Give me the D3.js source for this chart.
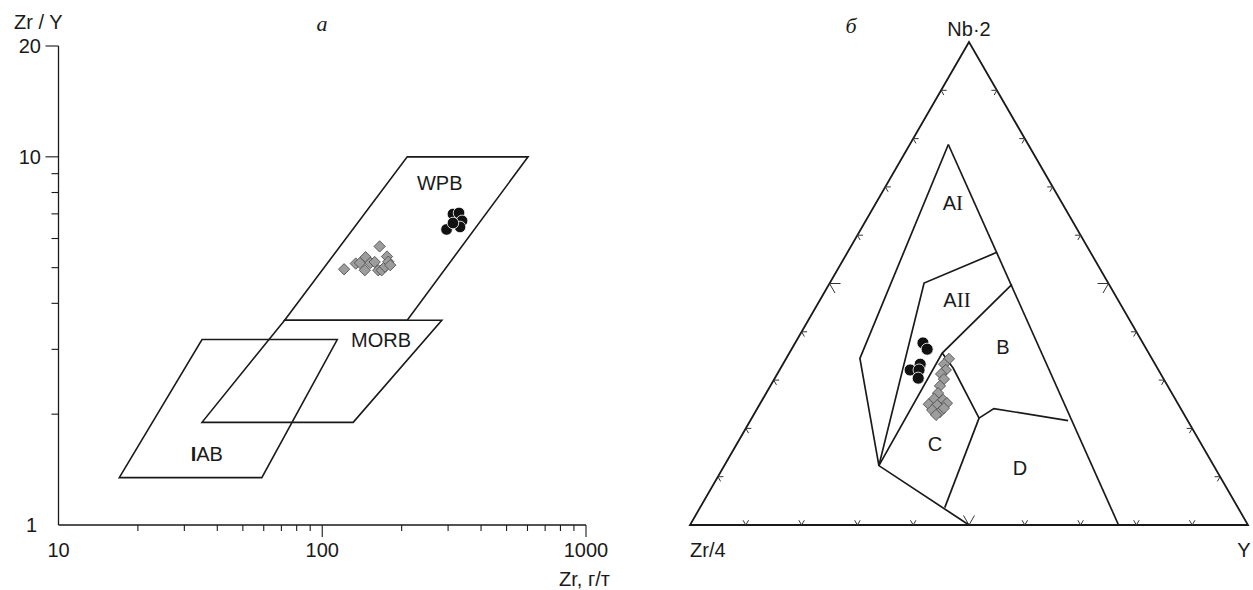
<!DOCTYPE html>
<html><head><meta charset="utf-8">
<script src="https://cdn.jsdelivr.net/npm/d3@7"></script>
<style>
body{margin:0;background:#fff}
svg{display:block}
text{font-family:"Liberation Sans",Arial,sans-serif;fill:#1a1a1a}
</style>
</head><body>
<svg id="c" width="1253" height="590"></svg>
<script>
// ================= DATA =================
// Panel a: Zr/Y vs Zr (log-log)
const xTicks = [10, 100, 1000];
const xTickLabels = ["10", "100", "1000"];
const xMinorTicks = [20,30,40,50,60,70,80,90,200,300,400,500,600,700,800,900];
const yTicks = [1, 10, 20];
const yTickLabels = ["1", "10", "20"];
const yMinorTicks = [2,3,4,5,6,7,8,9];
const xAxisTitle = "Zr, г/т";
const yAxisTitle = "Zr / Y";

const fieldNamesA = ["WPB", "MORB", "IAB"];
const fieldWPB  = [[210,10],[603,10],[210,3.6],[72,3.6]];
const fieldMORB = [[72,3.6],[284,3.6],[131,1.9],[35,1.9]];
const fieldIAB  = [[35,3.19],[114,3.19],[59,1.345],[17,1.345]];
const fieldLabelA = [[279,8.5],[167,3.19],[36.5,1.56]];

// samples (grey diamonds)
const zrDiamond  = [121,134,139,146,145,152,158,163,165,168,173,176,178,181];
const zrYDiamond = [4.95,5.13,5.15,5.34,4.92,5.15,5.18,4.92,5.71,4.92,5.03,5.36,5.19,5.08];
// samples (black circles)
const zrCircle  = [296,313,330,339,333,313];
const zrYCircle = [6.35,6.99,7.04,6.70,6.45,6.61];

// Panel б: ternary Nb*2 – Zr/4 – Y  (values as [Nb*2, Zr/4, Y] %)
const vertexLabels = ["Nb·2", "Zr/4", "Y"];
const tickFractions = [0.1,0.2,0.3,0.4,0.5,0.6,0.7,0.8,0.9];
const bLineOuter = [[78.7,14.3,6.9],[34.5,52.3,13.2],[12.3,60.0,27.7],[0,50,50]];
const bLineRight = [[78.7,14.3,6.9],[0,23.2,76.8]];
const bLineAI    = [[56.4,16.9,26.7],[50.1,33.0,16.9],[12.3,60.0,27.7]];
const bLineAII   = [[49.8,17.4,32.8],[35.6,37.0,27.4],[12.3,60.0,27.7]];
const bLineBC    = [[35.6,37.0,27.4],[32.5,36.6,30.9],[22.1,37.1,40.7],[24.1,33.5,42.4],[21.6,21.4,56.9]];
const bLineCD    = [[22.1,37.1,40.7],[3.6,52.6,43.9]];
const fieldNamesB = ["A", "A", "B", "C", "D"];
const fieldNumeralsB = ["I", "II", "", "", ""];
const fieldLabelB = [[66.7,19.6,13.8],[46.6,28.9,24.6],[36.8,25.5,37.7],[16.8,47.7,35.5],[11.9,34.9,53.2]];

const nbCircleT = [37.7,36.4,32.1,33.3,32.1,30.4];
const zrCircleT = [39.4,39.3,44.5,42.1,42.9,43.9];
const yCircleT  = [22.9,24.3,23.4,24.6,25.0,25.7];

const nbDiamondT = [34.4,33.3,32.1,31.3,30.2,28.8,27.3,26.1,25.9,25.0,24.8,25.2,23.8,23.4,24.2,22.8];
const zrDiamondT = [36.4,37.8,38.1,39.4,39.4,40.8,41.9,43.2,41.7,44.7,43.3,41.3,44.7,43.5,42.4,44.5];
const yDiamondT  = [29.2,28.9,29.8,29.4,30.4,30.4,30.8,30.7,32.4,30.3,31.9,33.4,31.5,33.1,33.4,32.7];

// ================= DRAW =================
const svg = d3.select("#c");
const FS = 20;
const ink = "#1a1a1a";

// ---------- Panel a ----------
const gA = svg.append("g");
const x = d3.scaleLog().domain([10,1000]).range([58.5,586]);
const y = d3.scaleLog().domain([1,20]).range([525,46]);

gA.append("text").attr("x",322).attr("y",31).attr("text-anchor","middle")
  .style("font-family","'Liberation Serif',serif").style("font-style","italic")
  .style("font-size","22px").text("а");

// axes lines
gA.append("line").attr("x1",x(10)).attr("x2",x(10)).attr("y1",y(20)).attr("y2",y(1))
  .attr("stroke",ink).attr("stroke-width",1.3);
gA.append("line").attr("x1",x(10)).attr("x2",x(1000)).attr("y1",y(1)).attr("y2",y(1))
  .attr("stroke",ink).attr("stroke-width",1.3);

// y ticks
gA.selectAll(".ymaj").data(yTicks.filter(d=>d>1)).enter().append("line")
  .attr("x1",x(10)).attr("x2",x(10)-13).attr("y1",d=>y(d)).attr("y2",d=>y(d))
  .attr("stroke",ink).attr("stroke-width",1.1);
gA.selectAll(".ymin").data(yMinorTicks).enter().append("line")
  .attr("x1",x(10)).attr("x2",x(10)-7).attr("y1",d=>y(d)).attr("y2",d=>y(d))
  .attr("stroke",ink).attr("stroke-width",1.1);
gA.selectAll(".ylab").data(yTicks).enter().append("text")
  .attr("x",d=>d===1?37:41).attr("y",d=>y(d)+7).attr("text-anchor","end")
  .style("font-size",FS+"px").text((d,i)=>yTickLabels[i]);
gA.append("text").attr("x",14).attr("y",29).style("font-size",FS+"px").text(yAxisTitle);

// x ticks
gA.selectAll(".xmaj").data(xTicks.filter(d=>d>10)).enter().append("line")
  .attr("x1",d=>x(d)).attr("x2",d=>x(d)).attr("y1",y(1)).attr("y2",y(1)+12)
  .attr("stroke",ink).attr("stroke-width",1.1);
gA.selectAll(".xmin").data(xMinorTicks).enter().append("line")
  .attr("x1",d=>x(d)).attr("x2",d=>x(d)).attr("y1",y(1)).attr("y2",y(1)+6)
  .attr("stroke",ink).attr("stroke-width",1.1);
gA.selectAll(".xlab").data(xTicks).enter().append("text")
  .attr("x",d=>x(d)).attr("y",557).attr("text-anchor","middle")
  .style("font-size",FS+"px").text((d,i)=>xTickLabels[i]);
gA.append("text").attr("x",610).attr("y",586).attr("text-anchor","end")
  .style("font-size",FS+"px").text(xAxisTitle);

// fields
const lineA = d3.line().x(d=>x(d[0])).y(d=>y(d[1]));
[fieldWPB, fieldMORB, fieldIAB].forEach(f=>{
  gA.append("path").attr("d", lineA(f)+"Z").attr("fill","none")
    .attr("stroke",ink).attr("stroke-width",1.6).attr("stroke-linejoin","miter");
});
gA.selectAll(".flab").data(fieldLabelA).enter().append("text")
  .attr("x",d=>x(d[0])).attr("y",d=>y(d[1])+7).attr("text-anchor","middle")
  .style("font-size",FS+"px")
  .each(function(d,i){
    const name = fieldNamesA[i];
    const t = d3.select(this);
    if(name==="IAB"){
      t.append("tspan").style("font-weight","bold").text("I");
      t.append("tspan").text("AB");
    } else t.text(name);
  });

const diamond = d3.symbol().type(d3.symbolSquare).size(64);
gA.selectAll(".dia").data(zrDiamond).enter().append("path")
  .attr("d",diamond())
  .attr("transform",(d,i)=>`translate(${x(d)},${y(zrYDiamond[i])}) rotate(45)`)
  .attr("fill","#9d9d9d").attr("stroke","#4a4a4a").attr("stroke-width",0.8);
gA.selectAll(".cir").data(zrCircle).enter().append("circle")
  .attr("cx",d=>x(d)).attr("cy",(d,i)=>y(zrYCircle[i])).attr("r",5.8)
  .attr("fill","#111").attr("stroke","#fff").attr("stroke-width",0.8);

// ---------- Panel б ----------
const gB = svg.append("g");
const tx = d3.scaleLinear().domain([0,1]).range([690,1248]);
const ty = d3.scaleLinear().domain([0,1]).range([525,42]);
function proj(nb, zr, yy){
  const s = nb+zr+yy, t = nb/s, r = yy/s;
  return [tx(r + t/2), ty(t)];
}
const lineB = d3.line().x(d=>proj(...d)[0]).y(d=>proj(...d)[1]);

gB.append("text").attr("x",851).attr("y",33).attr("text-anchor","middle")
  .style("font-family","'Liberation Serif',serif").style("font-style","italic")
  .style("font-size","22px").text("б");

const corners = [[100,0,0],[0,100,0],[0,0,100]];
gB.append("path").attr("d", lineB(corners)+"Z").attr("fill","none")
  .attr("stroke",ink).attr("stroke-width",1.8).attr("stroke-linejoin","miter");

// ticks
const A = proj(100,0,0), L = proj(0,100,0), R = proj(0,0,100);
function unit(p,q){const dx=q[0]-p[0],dy=q[1]-p[1],l=Math.hypot(dx,dy);return [dx/l,dy/l];}
const dAR = unit(A,R), dAL = unit(A,L), dRA = unit(R,A), dLA = unit(L,A);
const ticks = [];
tickFractions.forEach(f=>{
  const len = Math.abs(f-0.5)<1e-6 ? 11 : 5.5;
  const pl = proj(f*100,(1-f)*100,0);      // left edge
  ticks.push([pl,[1,0],len],[pl,dAR,len]);
  const pr = proj(f*100,0,(1-f)*100);      // right edge
  ticks.push([pr,[-1,0],len],[pr,dAL,len]);
  const pb = proj(0,(1-f)*100,f*100);      // base
  ticks.push([pb,dRA,len],[pb,dLA,len]);
});
gB.selectAll(".tk").data(ticks).enter().append("line")
  .attr("x1",d=>d[0][0]).attr("y1",d=>d[0][1])
  .attr("x2",d=>d[0][0]+d[1][0]*d[2]).attr("y2",d=>d[0][1]+d[1][1]*d[2])
  .attr("stroke","#333").attr("stroke-width",1);

// vertex labels
gB.append("text").attr("x",A[0]).attr("y",A[1]-6).attr("text-anchor","middle")
  .style("font-size",FS+"px").text(vertexLabels[0]);
gB.append("text").attr("x",L[0]).attr("y",557).attr("text-anchor","start")
  .style("font-size",FS+"px").text(vertexLabels[1]);
gB.append("text").attr("x",R[0]-4).attr("y",557).attr("text-anchor","middle")
  .style("font-size",FS+"px").text(vertexLabels[2]);

// field boundaries
[bLineOuter,bLineRight,bLineAI,bLineAII,bLineBC,bLineCD].forEach(b=>{
  gB.append("path").attr("d",lineB(b)).attr("fill","none")
    .attr("stroke",ink).attr("stroke-width",1.7).attr("stroke-linejoin","miter");
});

// field labels
fieldLabelB.forEach((p,i)=>{
  const q = proj(...p);
  const t = gB.append("text").attr("x",q[0]).attr("y",q[1]+7).attr("text-anchor","middle")
    .style("font-size",FS+"px");
  t.append("tspan").text(fieldNamesB[i]);
  if(fieldNumeralsB[i]) t.append("tspan").style("font-family","'Liberation Serif',serif")
    .style("font-size","21px").text(fieldNumeralsB[i]);
});

// samples
gB.selectAll(".cirT").data(nbCircleT).enter().append("circle")
  .attr("cx",(d,i)=>proj(d,zrCircleT[i],yCircleT[i])[0])
  .attr("cy",(d,i)=>proj(d,zrCircleT[i],yCircleT[i])[1])
  .attr("r",6).attr("fill","#111").attr("stroke","#fff").attr("stroke-width",0.8);
gB.selectAll(".diaT").data(nbDiamondT).enter().append("path")
  .attr("d",diamond())
  .attr("transform",(d,i)=>{const q=proj(d,zrDiamondT[i],yDiamondT[i]);return `translate(${q[0]},${q[1]}) rotate(45)`;})
  .attr("fill","#9d9d9d").attr("stroke","#4a4a4a").attr("stroke-width",0.8);
</script>
</body></html>
